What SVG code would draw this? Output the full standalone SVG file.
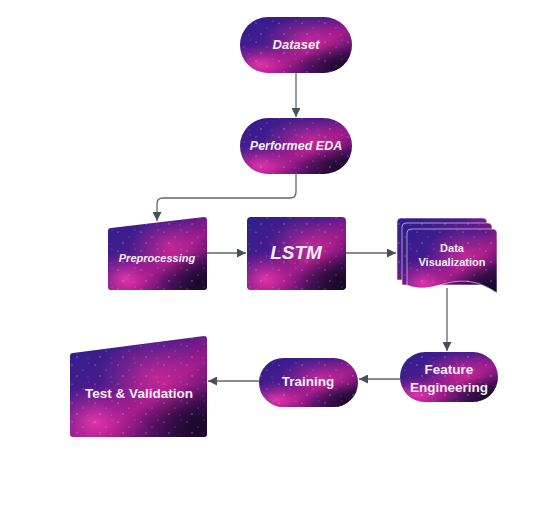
<svg xmlns="http://www.w3.org/2000/svg" xmlns:xlink="http://www.w3.org/1999/xlink" width="538" height="531" viewBox="0 0 538 531">
<style>
.base{fill:url(#gBase)}
.glow{fill:url(#gGlow)}
.glow2{fill:url(#gGlow2)}
.dark{fill:url(#gDark)}
.stars{fill:url(#pStars)}
.edge{fill:none;stroke:#ffffff;stroke-opacity:0.55;stroke-width:1}
.lbl{font-family:"Liberation Sans",Arial,sans-serif;font-weight:bold;fill:#f4eef8;text-anchor:middle}
.it{font-style:italic}
.conn{fill:none;stroke:#5f6670;stroke-width:1.3}
</style>
<defs>
<linearGradient id="gBase" x1="0" y1="0" x2="1" y2="1">
<stop offset="0" stop-color="#2f1e8c"/>
<stop offset="0.38" stop-color="#4a1b8c"/>
<stop offset="0.6" stop-color="#96198a"/>
<stop offset="0.82" stop-color="#4a1264"/>
<stop offset="1" stop-color="#1d0a35"/>
</linearGradient>
<radialGradient id="gGlow" cx="0.62" cy="0.4" r="0.42">
<stop offset="0" stop-color="#f0309e" stop-opacity="0.6"/>
<stop offset="1" stop-color="#e0309a" stop-opacity="0"/>
</radialGradient>
<radialGradient id="gGlow2" cx="0.18" cy="0.85" r="0.38">
<stop offset="0" stop-color="#ff3fb5" stop-opacity="0.75"/>
<stop offset="1" stop-color="#d02090" stop-opacity="0"/>
</radialGradient>
<radialGradient id="gDark" cx="0.92" cy="0.88" r="0.4">
<stop offset="0" stop-color="#120620" stop-opacity="0.75"/>
<stop offset="1" stop-color="#120620" stop-opacity="0"/>
</radialGradient>
<pattern id="pStars" patternUnits="userSpaceOnUse" width="23" height="19">
<circle cx="3" cy="4" r="0.6" fill="#fff" fill-opacity="0.6"/>
<circle cx="14" cy="9" r="0.5" fill="#fff" fill-opacity="0.5"/>
<circle cx="8" cy="15" r="0.7" fill="#ffd0f0" fill-opacity="0.55"/>
<circle cx="19" cy="16" r="0.4" fill="#fff" fill-opacity="0.5"/>
<circle cx="20" cy="2" r="0.5" fill="#fff" fill-opacity="0.4"/>
</pattern>
<marker id="arr" viewBox="0 0 10 10" refX="10" refY="5" markerWidth="9" markerHeight="9" markerUnits="userSpaceOnUse" orient="auto">
<path d="M0,0 L10,5 L0,10 Z" fill="#4a5058"/>
</marker>
<rect id="sDataset" x="240" y="17" width="112" height="56" rx="28"/>
<rect id="sEDA" x="240" y="118" width="112" height="56" rx="28"/>
<path id="sPre" d="M111,228 L204,217 Q207,217 207,220 L207,287 Q207,290 204,290 L111,290 Q108,290 108,287 L108,231 Q108,228 111,228 Z"/>
<rect id="sLSTM" x="247" y="217" width="99" height="73" rx="4"/>
<path id="sDoc1" d="M401,218 H483 Q487,218 487,222 V280 H397 V222 Q397,218 401,218 Z"/>
<path id="sDoc2" d="M406,223 H488 Q492,223 492,227 V285 H402 V227 Q402,223 406,223 Z"/>
<path id="sDoc3" d="M411,229 H493 Q497,229 497,233 V293 C484,284 470,279 452,282 C436,285 424,292 407,285 V233 Q407,229 411,229 Z"/>
<rect id="sFE" x="400" y="352" width="98" height="50" rx="25"/>
<rect id="sTrain" x="259" y="358" width="99" height="49" rx="24.5"/>
<path id="sTest" d="M73,353 L204,336 Q207,336 207,339 L207,434 Q207,437 204,437 L73,437 Q70,437 70,434 L70,356 Q70,353 73,353 Z"/>
</defs>

<g id="connectors">
<path class="conn" d="M296,73 V117" marker-end="url(#arr)"/>
<path class="conn" d="M296,174 V192 Q296,198 290,198 H163 Q157,198 157,204 V221" marker-end="url(#arr)"/>
<path class="conn" d="M207,253 H246" marker-end="url(#arr)"/>
<path class="conn" d="M346,253 H396" marker-end="url(#arr)"/>
<path class="conn" d="M447,288 V351" marker-end="url(#arr)"/>
<path class="conn" d="M400,379 H359" marker-end="url(#arr)"/>
<path class="conn" d="M259,381 H208" marker-end="url(#arr)"/>
</g>

<g id="node-dataset">
<use href="#sDataset" class="base"/><use href="#sDataset" class="glow"/><use href="#sDataset" class="glow2"/><use href="#sDataset" class="dark"/><use href="#sDataset" class="stars"/>
<text class="lbl it" x="296" y="49" font-size="13">Dataset</text>
</g>
<g id="node-eda">
<use href="#sEDA" class="base"/><use href="#sEDA" class="glow"/><use href="#sEDA" class="glow2"/><use href="#sEDA" class="dark"/><use href="#sEDA" class="stars"/>
<text class="lbl it" x="296" y="150" font-size="12.5">Performed EDA</text>
</g>
<g id="node-preprocessing">
<use href="#sPre" class="base"/><use href="#sPre" class="glow"/><use href="#sPre" class="glow2"/><use href="#sPre" class="dark"/><use href="#sPre" class="stars"/>
<text class="lbl it" x="157" y="262" font-size="11">Preprocessing</text>
</g>
<g id="node-lstm">
<use href="#sLSTM" class="base"/><use href="#sLSTM" class="glow"/><use href="#sLSTM" class="glow2"/><use href="#sLSTM" class="dark"/><use href="#sLSTM" class="stars"/>
<text class="lbl it" x="296" y="259" font-size="19">LSTM</text>
</g>
<g id="node-datavis">
<use href="#sDoc1" class="base"/><use href="#sDoc1" class="stars"/><use href="#sDoc1" class="edge"/>
<use href="#sDoc2" class="base"/><use href="#sDoc2" class="glow"/><use href="#sDoc2" class="stars"/><use href="#sDoc2" class="edge"/>
<use href="#sDoc3" class="base"/><use href="#sDoc3" class="glow"/><use href="#sDoc3" class="glow2"/><use href="#sDoc3" class="dark"/><use href="#sDoc3" class="stars"/><use href="#sDoc3" class="edge"/>
<text class="lbl" x="452" y="252" font-size="11">Data</text>
<text class="lbl" x="452" y="266" font-size="11">Visualization</text>
</g>
<g id="node-feature">
<use href="#sFE" class="base"/><use href="#sFE" class="glow"/><use href="#sFE" class="glow2"/><use href="#sFE" class="dark"/><use href="#sFE" class="stars"/>
<text class="lbl" x="449" y="374" font-size="13.5">Feature</text>
<text class="lbl" x="449" y="392" font-size="13.5">Engineering</text>
</g>
<g id="node-training">
<use href="#sTrain" class="base"/><use href="#sTrain" class="glow"/><use href="#sTrain" class="glow2"/><use href="#sTrain" class="dark"/><use href="#sTrain" class="stars"/>
<text class="lbl" x="308" y="386" font-size="13.5">Training</text>
</g>
<g id="node-test">
<use href="#sTest" class="base"/><use href="#sTest" class="glow"/><use href="#sTest" class="glow2"/><use href="#sTest" class="dark"/><use href="#sTest" class="stars"/>
<text class="lbl" x="139" y="398" font-size="13.5">Test &amp; Validation</text>
</g>
</svg>
